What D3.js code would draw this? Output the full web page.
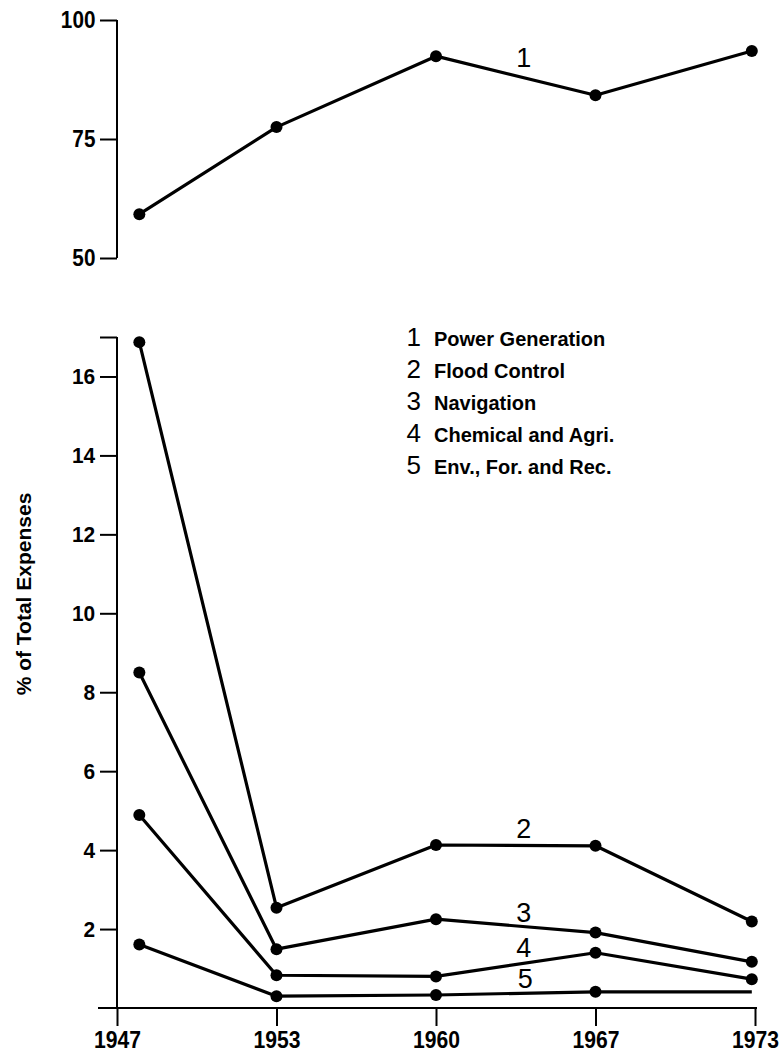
<!DOCTYPE html>
<html><head><meta charset="utf-8">
<script src="https://cdn.jsdelivr.net/npm/d3@7"></script>
<style>body{margin:0;background:#fff} svg{display:block}</style>
</head><body><svg id="c" width="784" height="1056"></svg>
<script>
// ---- data ----
const years = ["1947", "1953", "1960", "1967", "1973"];
const plotPos = [0.14, 1, 2, 3, 3.98];           // category index where each year's points sit
const power = [59.2, 77.5, 92.4, 84.2, 93.5];
const flood = [16.87, 2.54, 4.13, 4.11, 2.19];
const navigation = [8.5, 1.49, 2.25, 1.91, 1.17];
const chemAgri = [4.89, 0.83, 0.80, 1.40, 0.73];
const envForRec = [1.61, 0.30, 0.33, 0.41, 0.41];
const envDots = [true, true, true, true, false];
const topTicks = [50, 75, 100];
const bottomTicks = [2, 4, 6, 8, 10, 12, 14, 16, 17];
const bottomTickLabels = ["2", "4", "6", "8", "10", "12", "14", "16", ""];
const legendNums = ["1", "2", "3", "4", "5"];
const legendLabels = ["Power Generation", "Flood Control", "Navigation", "Chemical and Agri.", "Env., For. and Rec."];
const yTitle = "% of Total Expenses";

// ---- drawing ----
const svg = d3.select("#c");
const FONT = "'Liberation Sans', Arial, Helvetica, sans-serif";
const x = d3.scaleLinear().domain([0, 4]).range([117, 755]);
const yTop = d3.scaleLinear().domain([50, 100]).range([258, 20]);
const yBot = d3.scaleLinear().domain([0, 17]).range([1008, 337]);

function styleAxis(g, size, sx) {
  g.select(".domain").remove();
  g.selectAll(".tick line").attr("stroke", "#000").attr("stroke-width", 2);
  g.selectAll(".tick text").attr("font-family", FONT).attr("font-weight", "bold")
    .attr("font-size", size).attr("fill", "#000").attr("transform", `scale(${sx},1)`);
}

// top axis
const gTop = svg.append("g").attr("transform", "translate(117,0)")
  .call(d3.axisLeft(yTop).tickValues(topTicks).tickSize(17).tickPadding(7).tickFormat(d3.format("d")));
styleAxis(gTop, 23, 0.9);
svg.append("line").attr("x1", 117).attr("x2", 117).attr("y1", yTop(100)).attr("y2", yTop(50))
  .attr("stroke", "#000").attr("stroke-width", 2);

// bottom y axis
const gBot = svg.append("g").attr("transform", "translate(117,0)")
  .call(d3.axisLeft(yBot).tickValues(bottomTicks).tickSize(17).tickPadding(6)
    .tickFormat((d, i) => bottomTickLabels[i]));
styleAxis(gBot, 22, 0.95);
svg.append("line").attr("x1", 117).attr("x2", 117).attr("y1", yBot(17)).attr("y2", yBot(0))
  .attr("stroke", "#000").attr("stroke-width", 2);

// x axis
const gX = svg.append("g").attr("transform", `translate(0,${yBot(0)})`)
  .call(d3.axisBottom(x).tickValues([0, 1, 2, 3, 4]).tickSize(18).tickPadding(5)
    .tickFormat((d, i) => years[i]));
styleAxis(gX, 24, 0.88);
svg.append("line").attr("x1", x(0) - 19).attr("x2", x(4) + 2).attr("y1", yBot(0)).attr("y2", yBot(0))
  .attr("stroke", "#000").attr("stroke-width", 2);

// y title
svg.append("text").attr("transform", `translate(31,594) rotate(-90)`)
  .attr("text-anchor", "middle").attr("font-family", FONT).attr("font-weight", "bold")
  .attr("font-size", 21).text(yTitle);

function drawSeries(vals, yScale, dots) {
  const pts = vals.map((v, i) => [x(plotPos[i]), yScale(v)]);
  svg.append("path").attr("d", d3.line()(pts)).attr("fill", "none")
    .attr("stroke", "#000").attr("stroke-width", 3.2).attr("stroke-linejoin", "round");
  svg.append("g").selectAll("circle").data(pts.filter((p, i) => !dots || dots[i]))
    .join("circle").attr("cx", p => p[0]).attr("cy", p => p[1]).attr("r", 6).attr("fill", "#000");
}
drawSeries(power, yTop);
drawSeries(flood, yBot);
drawSeries(navigation, yBot);
drawSeries(chemAgri, yBot);
drawSeries(envForRec, yBot, envDots);

// series number labels
const seriesLabels = [
  {t: "1", p: 2.55, v: 90.1, s: yTop},
  {t: "2", p: 2.55, v: 4.31, s: yBot},
  {t: "3", p: 2.55, v: 2.18, s: yBot},
  {t: "4", p: 2.55, v: 1.29, s: yBot},
  {t: "5", p: 2.56, v: 0.51, s: yBot}
];
svg.append("g").selectAll("text").data(seriesLabels).join("text")
  .attr("x", d => x(d.p)).attr("y", d => d.s(d.v)).attr("text-anchor", "middle")
  .attr("font-family", FONT).attr("font-size", 27).text(d => d.t);

// legend
const lg = svg.append("g");
legendNums.forEach((n, i) => {
  lg.append("text").attr("x", 421).attr("y", 346 + i * 32).attr("text-anchor", "end")
    .attr("font-family", FONT).attr("font-size", 26).text(n);
  lg.append("text").attr("x", 434).attr("y", 346 + i * 32)
    .attr("font-family", FONT).attr("font-weight", "bold").attr("font-size", 20).text(legendLabels[i]);
});
</script>
</body></html>
